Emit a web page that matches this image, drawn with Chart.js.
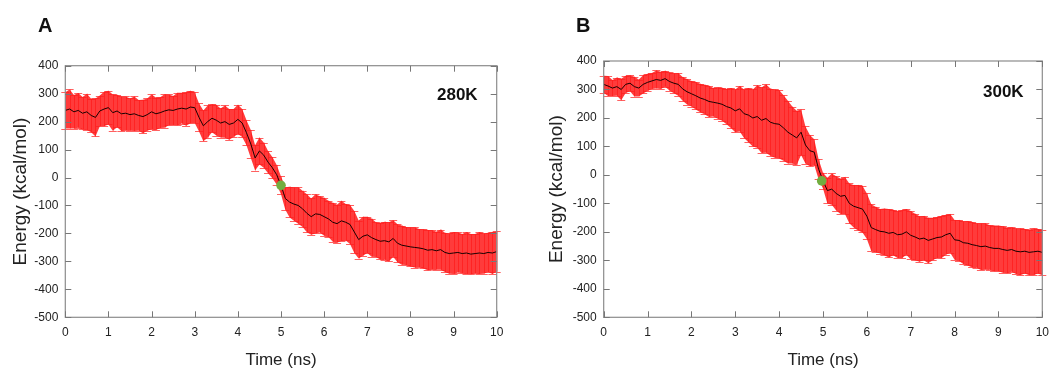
<!DOCTYPE html>
<html><head><meta charset="utf-8">
<script src="https://cdn.jsdelivr.net/npm/chart.js@4.4.1/dist/chart.umd.min.js"></script>
<style>
html,body{margin:0;padding:0;background:#fff;width:1063px;height:369px;overflow:hidden;font-family:"Liberation Sans",Arial,sans-serif}
.panel{position:absolute;top:0;height:369px}
#pa{left:0;width:530px}
#pb{left:530px;width:533px}
.lab{position:absolute;font-weight:bold;font-size:20px;line-height:1;color:#111}
.temp{position:absolute;font-weight:bold;font-size:17px;line-height:1;color:#111}
</style></head><body>
<div class="panel" id="pa"><canvas id="ca" width="530" height="369"></canvas></div>
<div class="panel" id="pb"><canvas id="cb" width="533" height="369"></canvas></div>
<div class="lab" id="labA" style="left:38px;top:15px"></div>
<div class="lab" id="labB" style="left:576px;top:15px"></div>
<div class="temp" id="tA" style="left:437px;top:86px"></div>
<div class="temp" id="tB" style="left:983px;top:83px"></div>
<script>
// ---- data ----
const times = [0,0.1,0.2,0.3,0.4,0.5,0.6,0.7,0.8,0.9,
1,1.1,1.2,1.3,1.4,1.5,1.6,1.7,1.8,1.9,
2,2.1,2.2,2.3,2.4,2.5,2.6,2.7,2.8,2.9,
3,3.1,3.2,3.3,3.4,3.5,3.6,3.7,3.8,3.9,
4,4.1,4.2,4.3,4.4,4.5,4.6,4.7,4.8,4.9,
5,5.1,5.2,5.3,5.4,5.5,5.6,5.7,5.8,5.9,
6,6.1,6.2,6.3,6.4,6.5,6.6,6.7,6.8,6.9,
7,7.1,7.2,7.3,7.4,7.5,7.6,7.7,7.8,7.9,
8,8.1,8.2,8.3,8.4,8.5,8.6,8.7,8.8,8.9,
9,9.1,9.2,9.3,9.4,9.5,9.6,9.7,9.8,9.9,10];

const energyA = [240,245,235,240,230,235,222,215,238,245,
250,232,238,228,230,225,228,222,218,225,
235,228,232,238,242,240,245,248,245,252,
250,215,185,200,212,205,195,200,190,195,
208,195,160,120,70,95,80,55,35,10,
-28,-75,-88,-95,-100,-112,-128,-140,-130,-132,
-140,-148,-160,-165,-155,-160,-168,-195,-222,-210,
-205,-215,-222,-228,-226,-230,-218,-235,-242,-245,
-248,-250,-252,-255,-260,-258,-262,-258,-268,-272,
-270,-268,-272,-270,-274,-272,-270,-272,-268,-270,-265];

const errorA = [65,70,60,62,58,65,60,68,55,62,
60,65,58,62,60,58,62,55,60,58,
62,58,55,60,55,52,58,55,60,58,
55,50,55,58,50,55,52,58,55,50,
52,50,45,50,45,48,45,40,38,35,
32,40,55,60,65,65,68,65,70,65,
68,65,70,68,72,65,70,75,68,70,
65,68,62,65,68,70,65,68,70,68,
70,72,68,70,72,70,68,72,70,72,
75,72,70,75,72,70,75,72,70,75,72];

const energyB = [318,312,305,310,300,318,322,310,305,318,
325,330,335,332,338,328,322,318,302,292,
285,278,270,265,258,255,252,248,240,235,
225,232,215,210,200,205,192,198,185,180,
178,165,150,140,130,150,105,85,80,20,
-20,-55,-50,-65,-75,-72,-100,-110,-115,-120,
-145,-185,-192,-198,-200,-205,-202,-210,-208,-200,
-212,-218,-225,-222,-230,-225,-220,-218,-210,-205,
-228,-230,-238,-240,-245,-248,-252,-250,-255,-258,
-258,-262,-265,-262,-268,-270,-268,-272,-270,-268,-272];

const errorB = [30,35,28,32,38,30,28,35,30,32,
30,28,32,30,28,32,35,40,42,45,
45,48,50,52,55,50,55,58,62,70,
75,80,85,95,100,110,115,120,118,120,
120,115,110,100,95,80,65,55,45,35,
28,45,55,60,62,65,70,75,80,82,
80,82,80,78,82,85,80,82,85,80,
85,82,80,78,80,75,72,75,70,68,
70,72,75,78,80,78,82,80,78,80,
80,82,80,78,80,82,78,80,82,78,80];

const markerA = [{x:5.0, y:-28}];
const markerB = [{x:4.97, y:-21}];

const xTickValues = [0,1,2,3,4,5,6,7,8,9,10];
const yTickValues = [-500,-400,-300,-200,-100,0,100,200,300,400];
const panelLabels = ['A','B'];
const tempLabels = ['280K','300K'];
const xTitle = 'Time (ns)';
const yTitle = 'Energy (kcal/mol)';

document.getElementById('labA').textContent = panelLabels[0];
document.getElementById('labB').textContent = panelLabels[1];
document.getElementById('tA').textContent = tempLabels[0];
document.getElementById('tB').textContent = tempLabels[1];

// ---- plugins ----
const errorBarPlugin = {
  id: 'errbars',
  beforeDatasetsDraw(chart, args, o) {
    const {ctx, scales: {x, y}} = chart;
    const n = times.length;
    const px = i => x.getPixelForValue(times[i]);
    const hi = i => y.getPixelForValue(o.mean[i] + o.err[i]);
    const lo = i => y.getPixelForValue(o.mean[i] - o.err[i]);
    ctx.save();
    // band body formed by the error bars' extents
    ctx.beginPath();
    ctx.moveTo(px(0), hi(0));
    for (let i = 1; i < n; i++) ctx.lineTo(px(i), hi(i));
    for (let i = n - 1; i >= 0; i--) ctx.lineTo(px(i), lo(i));
    ctx.closePath();
    ctx.fillStyle = 'rgba(255,25,25,0.85)';
    ctx.fill();
    // vertical bars
    ctx.beginPath();
    for (let i = 0; i < n; i++) {
      const p = Math.round(px(i)) + 0.5;
      ctx.moveTo(p, hi(i)); ctx.lineTo(p, lo(i));
    }
    ctx.strokeStyle = 'rgba(255,0,0,0.4)';
    ctx.lineWidth = 1;
    ctx.stroke();
    // caps
    ctx.strokeStyle = 'rgba(255,30,30,0.7)';
    ctx.lineWidth = 1.2;
    ctx.beginPath();
    for (let i = 0; i < n; i++) {
      const p = px(i);
      const t = Math.round(hi(i)) + 0.5;
      const b = Math.round(lo(i)) + 0.5;
      ctx.moveTo(p - 4, t); ctx.lineTo(p + 4, t);
      ctx.moveTo(p - 4, b); ctx.lineTo(p + 4, b);
    }
    ctx.stroke();
    ctx.restore();
  }
};

const framePlugin = {
  id: 'frame',
  afterDraw(chart) {
    const {ctx, chartArea: a, scales: {x, y}} = chart;
    ctx.save();
    ctx.strokeStyle = '#8c8c8c';
    ctx.lineWidth = 1.2;
    ctx.strokeRect(a.left, a.top, a.right - a.left, a.bottom - a.top);
    ctx.strokeStyle = '#777';
    ctx.lineWidth = 1;
    ctx.beginPath();
    const L = 6;
    xTickValues.forEach(v => {
      const p = Math.round(x.getPixelForValue(v)) + 0.5;
      ctx.moveTo(p, a.bottom); ctx.lineTo(p, a.bottom - L);
      ctx.moveTo(p, a.top); ctx.lineTo(p, a.top + L);
    });
    yTickValues.forEach(v => {
      const p = Math.round(y.getPixelForValue(v)) + 0.5;
      ctx.moveTo(a.left, p); ctx.lineTo(a.left + L, p);
      ctx.moveTo(a.right, p); ctx.lineTo(a.right - L, p);
    });
    ctx.stroke();
    ctx.restore();
  }
};

function makeChart(id, mean, err, marker, g) {
  const lineData = times.map((t, i) => ({x: t, y: mean[i]}));
  return new Chart(document.getElementById(id), {
    type: 'line',
    data: {
      datasets: [
        {data: marker, showLine: false, pointRadius: 4.8, pointBackgroundColor: '#72ad3f', pointBorderWidth: 0, order: 0},
        {data: lineData, borderColor: '#1a0000', borderWidth: 1, pointRadius: 0, tension: 0, fill: false, order: 1}
      ]
    },
    options: {
      responsive: false,
      animation: false,
      layout: {padding: {left: 0, right: g.padRight, top: g.padTop, bottom: 0}},
      plugins: {legend: {display: false}, tooltip: {enabled: false},
                errbars: {mean: mean, err: err}},
      scales: {
        x: {
          type: 'linear', min: 0, max: 10,
          afterBuildTicks: s => { s.ticks = xTickValues.map(v => ({value: v})); },
          afterFit: s => { s.height = g.xH; },
          grid: {display: false, drawTicks: false},
          border: {display: false},
          ticks: {padding: 8, color: '#222', font: {family: 'Liberation Sans', size: 12}},
          title: {display: true, text: xTitle, color: '#222', padding: {top: 0, bottom: 0},
                  font: {family: 'Liberation Sans', size: 17, lineHeight: 1}}
        },
        y: {
          min: -500, max: 400,
          afterBuildTicks: s => { s.ticks = yTickValues.map(v => ({value: v})); },
          afterFit: s => { s.width = g.yW; },
          grid: {display: false, drawTicks: false},
          border: {display: false},
          ticks: {padding: 7, color: '#222', font: {family: 'Liberation Sans', size: 12}},
          title: {display: true, text: yTitle, color: '#222', padding: {top: g.yTitlePad, bottom: 0},
                  font: {family: 'Liberation Sans', size: 19, lineHeight: 1.2}}
        }
      }
    },
    plugins: [errorBarPlugin, framePlugin]
  });
}

makeChart('ca', energyA, errorA, markerA, {yW: 65.3, xH: 51.7, padRight: 33.3, padTop: 65.7, yTitlePad: 9.5});
makeChart('cb', energyB, errorB, markerB, {yW: 73.7, xH: 51.7, padRight: 20.7, padTop: 61, yTitlePad: 15});
</script>
</body></html>
